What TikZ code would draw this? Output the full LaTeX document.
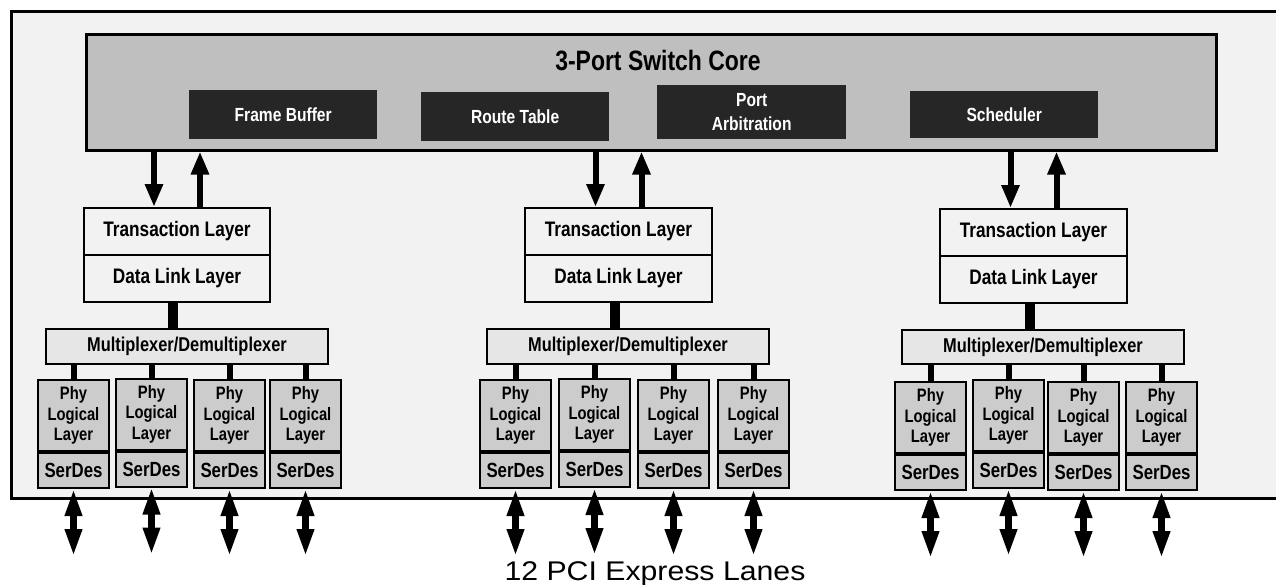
\documentclass[tikz,border=0pt]{standalone}
\usepackage{fontspec}
\setmainfont{Liberation Sans}
\newfontfamily\narrowfont[FakeStretch=0.82]{Liberation Sans}
\newfontfamily\widefont[FakeStretch=1.12]{Liberation Sans}
\usetikzlibrary{arrows.meta,calc}
\definecolor{bgc}{HTML}{F2F2F2}
\definecolor{corec}{HTML}{BFBFBF}
\definecolor{darkc}{HTML}{262626}
\definecolor{muxc}{HTML}{E6E6E6}
\definecolor{phyc}{HTML}{CCCCCC}
\tikzset{
  frame/.style={draw=black, fill=bgc, line width=2.5pt, inner sep=0pt, anchor=north west},
  corebox/.style={draw=black, fill=corec, line width=2.5pt, inner sep=0pt, anchor=north west},
  darkbox/.style={fill=darkc, text=white, inner sep=0pt, anchor=north west, align=center,
    font=\narrowfont\bfseries\fontsize{19}{24}\selectfont},
  layerbox/.style={draw=black, fill=bgc, line width=2pt, inner sep=0pt, anchor=north west,
    font=\narrowfont\bfseries\fontsize{21}{24}\selectfont},
  muxbox/.style={draw=black, fill=muxc, line width=2pt, inner sep=0pt, anchor=north west,
    font=\narrowfont\bfseries\fontsize{20}{24}\selectfont},
  phybox/.style={draw=black, fill=phyc, line width=2pt, inner sep=0pt, anchor=north west, align=center,
    font=\narrowfont\bfseries\fontsize{18}{20.5}\selectfont},
  serbox/.style={draw=black, fill=phyc, line width=2pt, inner sep=0pt, anchor=north west,
    font=\narrowfont\bfseries\fontsize{20.5}{24}\selectfont},
  flowarrow/.style={line width=6pt, -{Triangle[length=23pt,width=17pt]}},
  thickconn/.style={line width=10pt},
  thinconn/.style={line width=6pt},
  lanearrow/.style={line width=6.5pt, {Triangle[length=27pt,width=16pt]}-{Triangle[length=27pt,width=16pt]}},
}
\begin{document}
\begin{tikzpicture}[x=1pt,y=-1pt]
\useasboundingbox (0,0) rectangle (1276,584);
\clip (0,0) rectangle (1276,584);
\fill[white] (0,0) rectangle (1276,584);

% outer frame
\node[frame, minimum width=1300pt, minimum height=487pt] (outer) at (10,10) {};

% switch core
\node[corebox, minimum width=1130pt, minimum height=116pt] (core) at (85,33) {};
\node[font=\narrowfont\bfseries\fontsize{28}{32}\selectfont] (title) at (658,61) {3-Port Switch Core};
\node[darkbox, minimum width=188pt, minimum height=49pt] (fb) at (189,90) {Frame Buffer};
\node[darkbox, minimum width=188pt, minimum height=49pt] (rt) at (421,92) {Route Table};
\node[darkbox, minimum width=189pt, minimum height=54pt] (pa) at (657,85) {Port\\Arbitration};
\node[darkbox, minimum width=188pt, minimum height=47pt] (sc) at (910,91) {Scheduler};

% transaction / data link layers
\node[layerbox, minimum width=186pt, minimum height=47pt] (t1) at (83,207) {Transaction Layer};
\node[layerbox, minimum width=186pt, minimum height=47pt] (d1) at (83,254) {Data Link Layer};
\node[layerbox, minimum width=187pt, minimum height=47pt] (t2) at (524,207) {Transaction Layer};
\node[layerbox, minimum width=187pt, minimum height=47pt] (d2) at (524,254) {Data Link Layer};
\node[layerbox, minimum width=187pt, minimum height=47pt] (t3) at (939,208) {Transaction Layer};
\node[layerbox, minimum width=187pt, minimum height=47pt] (d3) at (939,255) {Data Link Layer};

% multiplexers
\node[muxbox, minimum width=282pt, minimum height=35pt] (m1) at (45,328) {Multiplexer/Demultiplexer};
\node[muxbox, minimum width=282pt, minimum height=35pt] (m2) at (486,328) {Multiplexer/Demultiplexer};
\node[muxbox, minimum width=282pt, minimum height=34pt] (m3) at (901,329) {Multiplexer/Demultiplexer};

% arrows between core and transaction layers
\foreach \t in {t1,t2,t3}{
  \draw[flowarrow] ([xshift=-23pt]\t.north |- core.south) -- ([xshift=-23pt]\t.north);
  \draw[flowarrow] ([xshift=23pt]\t.north) -- ([xshift=23pt]\t.north |- core.south);
}

% data link to mux
\foreach \d/\m in {d1/m1,d2/m2,d3/m3}{
  \draw[thickconn] ([xshift=-4pt]\d.south) -- ([xshift=-4pt]\d.south |- \m.north);
}

% phy boxes
\foreach \n/\x/\y/\m in {1/37/379/m1, 2/115/377.5/m1, 3/193/379/m1, 4/269/379/m1,
                        5/479/379/m2, 6/558/378/m2, 7/637/379/m2, 8/717/379/m2,
                        9/894/381/m3, 10/972/379/m3, 11/1047/381/m3, 12/1125/381/m3}{
  \node[phybox, minimum width=71pt, minimum height=71pt] (p\n) at (\x,\y) {Phy\\Logical\\Layer};
  \node[serbox, minimum width=71pt, minimum height=35pt] (s\n) at (p\n.south west) {SerDes};
  \draw[thinconn] (p\n.north) -- (p\n.north |- \m.south);
  \path (s\n.south) ++(0,67) coordinate (e\n);
  \draw[lanearrow] (s\n.south) -- (e\n);
}

% caption
\node[font=\widefont\fontsize{27}{30}\selectfont, anchor=base] (lanes) at (655,580) {12 PCI Express Lanes};
\end{tikzpicture}
\end{document}
